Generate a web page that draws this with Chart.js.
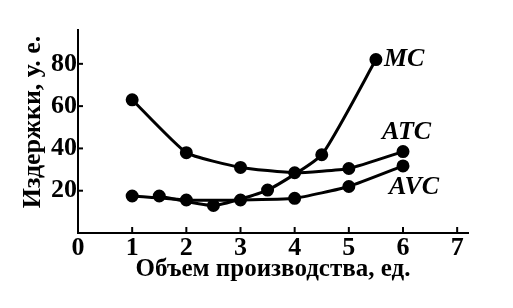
<!DOCTYPE html>
<html>
<head>
<meta charset="utf-8">
<script src="https://cdn.jsdelivr.net/npm/chart.js@4"></script>
<style>
  html, body { margin: 0; padding: 0; background: #fff; }
  #wrap { width: 513px; height: 308px; }
</style>
</head>
<body>
<div id="wrap"><canvas id="costChart" width="513" height="308"></canvas></div>
<script>
// объем производства
var qAvg = [1, 2, 3, 4, 5, 6];
var atc  = [63, 38, 31, 28.5, 30.5, 38.5];
var avc  = [17.5, 15.6, 15.6, 16.4, 22, 31.7];
// MC считаются на середине интервала
var qMc  = [1.5, 2.5, 3.5, 4.5, 5.5];
var mc   = [17.5, 13, 20.3, 37, 82];

var xTicks = [0, 1, 2, 3, 4, 5, 6, 7];
var yTicks = [20, 40, 60, 80];
var curveNames = ['MC', 'ATC', 'AVC'];
var xTitle = 'Объем производства, ед.';
var yTitle = 'Издержки, у. е.';

function pts(xs, ys) {
    return xs.map(function (x, i) { return {x: x, y: ys[i]}; });
}

var serif = "'Liberation Serif', 'DejaVu Serif', serif";

function lineSet(label, data) {
    return {
        label: label,
        data: data,
        borderColor: '#000',
        backgroundColor: '#000',
        borderWidth: 3,
        pointRadius: 5,
        pointHoverRadius: 5,
        tension: 0.15
    };
}

// подписи кривых, заголовок оси Y и засечки внутрь
var labelOffsets = {MC: [8, 0], ATC: [-21, -19], AVC: [-14, 21]};
var extras = {
    id: 'extras',
    afterDatasetsDraw: function (chart) {
        var ctx = chart.ctx;
        var xs = chart.scales.x, ys = chart.scales.y;
        ctx.save();
        ctx.strokeStyle = '#000';
        ctx.lineWidth = 2;
        xTicks.forEach(function (t) {
            if (t === 0) return;
            var px = xs.getPixelForValue(t);
            ctx.beginPath();
            ctx.moveTo(px, ys.bottom);
            ctx.lineTo(px, ys.bottom - 6);
            ctx.stroke();
        });
        yTicks.forEach(function (t) {
            var py = ys.getPixelForValue(t);
            ctx.beginPath();
            ctx.moveTo(xs.left, py);
            ctx.lineTo(xs.left + 5, py);
            ctx.stroke();
        });
        ctx.fillStyle = '#000';
        ctx.font = "italic bold 26px " + serif;
        ctx.textBaseline = 'middle';
        ctx.textAlign = 'left';
        chart.data.datasets.forEach(function (ds, i) {
            var meta = chart.getDatasetMeta(i);
            var last = meta.data[meta.data.length - 1];
            var off = labelOffsets[ds.label];
            ctx.fillText(ds.label, last.x + off[0], last.y + off[1]);
        });
        ctx.translate(33, 122);
        ctx.rotate(-Math.PI / 2);
        ctx.textAlign = 'center';
        ctx.font = "bold 26px " + serif;
        ctx.fillText(yTitle, 0, 0);
        ctx.restore();
    }
};

var chart = new Chart(document.getElementById('costChart').getContext('2d'), {
    type: 'line',
    data: {
        datasets: [
            lineSet(curveNames[0], pts(qMc, mc)),
            lineSet(curveNames[1], pts(qAvg, atc)),
            lineSet(curveNames[2], pts(qAvg, avc))
        ]
    },
    options: {
        responsive: false,
        animation: false,
        events: [],
        layout: { padding: { top: 30, right: 45, bottom: 0, left: 0 } },
        plugins: { legend: { display: false }, tooltip: { enabled: false } },
        scales: {
            x: {
                type: 'linear',
                min: 0,
                max: 7.2,
                afterFit: function (s) { s.height = 75; },
                afterBuildTicks: function (s) {
                    s.ticks = xTicks.map(function (v) { return {value: v}; });
                },
                grid: { display: false, drawTicks: false },
                border: { display: true, color: '#000', width: 2 },
                ticks: {
                    color: '#000',
                    padding: 0,
                    maxRotation: 0,
                    font: { family: serif, size: 26, weight: 'bold' }
                },
                title: {
                    display: true,
                    text: xTitle,
                    color: '#000',
                    padding: { top: 0, bottom: 23 },
                    font: { family: serif, size: 25, weight: 'bold' }
                }
            },
            y: {
                type: 'linear',
                min: 0,
                max: 96,
                afterFit: function (s) { s.width = 78; },
                afterBuildTicks: function (s) {
                    s.ticks = yTicks.map(function (v) { return {value: v}; });
                },
                grid: { display: false, drawTicks: false },
                border: { display: true, color: '#000', width: 2 },
                ticks: {
                    color: '#000',
                    padding: 1,
                    font: { family: serif, size: 26, weight: 'bold' }
                },
                title: { display: false }
            }
        }
    },
    plugins: [extras]
});
</script>
</body>
</html>
